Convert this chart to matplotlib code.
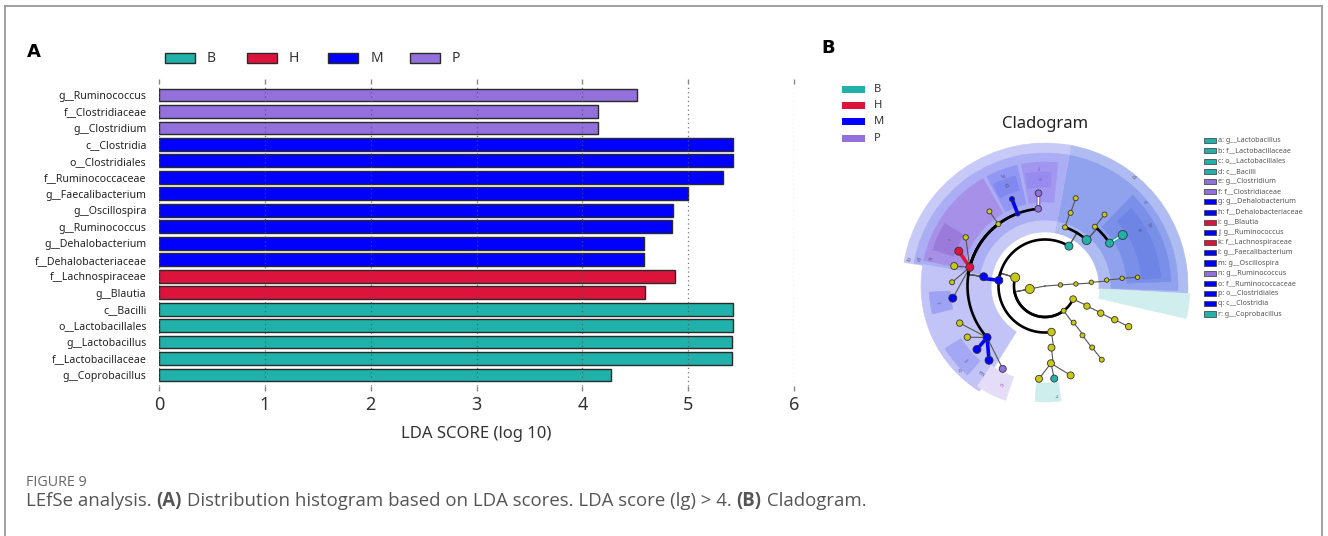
import numpy as np
import matplotlib
matplotlib.use("Agg")
import matplotlib.pyplot as plt
from matplotlib.patches import Rectangle, Wedge, Circle

# ---------------- data: panel A (LDA scores) ----------------
taxa = ["g__Ruminococcus", "f__Clostridiaceae", "g__Clostridium", "c__Clostridia",
        "o__Clostridiales", "f__Ruminococcaceae", "g__Faecalibacterium", "g__Oscillospira",
        "g__Ruminococcus", "g__Dehalobacterium", "f__Dehalobacteriaceae", "f__Lachnospiraceae",
        "g__Blautia", "c__Bacilli", "o__Lactobacillales", "g__Lactobacillus",
        "f__Lactobacillaceae", "g__Coprobacillus"]
lda = [4.52, 4.15, 4.15, 5.42, 5.42, 5.33, 5.00, 4.855, 4.85, 4.58, 4.58, 4.88, 4.59,
       5.42, 5.42, 5.41, 5.41, 4.27]
group = ["P", "P", "P", "M", "M", "M", "M", "M", "M", "M", "M", "H", "H",
         "B", "B", "B", "B", "B"]
groups = ["B", "H", "M", "P"]
gcol = {"B": "#20B2AA", "H": "#DC143C", "M": "#0000FF", "P": "#9370DB", "Y": "#C9C812"}
xticks = [0, 1, 2, 3, 4, 5, 6]

# ---------------- data: panel B (cladogram tree) ----------------
clade_parent = [-1, 0, 0, 1, 1, 1, 2, 6, 7, 8, 9, 3, 3, 3, 4, 14, 15, 16, 5, 18, 19, 20,
                11, 11, 22, 24, 23, 26, 23, 28, 12, 30, 31, 30, 33, 30, 35, 30, 37, 37, 37,
                37, 37, 30, 43, 43, 43, 43, 43, 13, 49, 50, 50, 50]
clade_angle = [0, 191, 4, 164, 335, 307, 3.7, 4.6, 5.5, 5.7, 5.4, 59, 173, 278, 334.4, 334,
               334.2, 334.1, 308, 307.2, 307.5, 307.6, 71.2, 47.8, 70.7, 70.7, 49.9, 50.2,
               33.6, 33.3, 171.4, 95, 94, 110.7, 110.8, 127, 126.7, 166, 158, 148.5, 167.6,
               177.7, 187.5, 221.6, 203.5, 213.4, 223, 233, 243, 276, 274.4, 266.3, 275.7, 286]
clade_level = [0, 1, 1, 2, 2, 2, 2, 3, 4, 5, 6, 3, 3, 3, 3, 4, 5, 6, 3, 4, 5, 6,
               4, 4, 5, 6, 5, 6, 5, 6, 4, 5, 6, 5, 6, 5, 6, 5, 6, 6, 6, 6, 6, 5, 6, 6, 6, 6, 6,
               4, 5, 6, 6, 6]
clade_group = ["R", "Y", "Y", "Y", "Y", "Y", "Y", "Y", "Y", "Y", "Y", "B", "M", "Y", "Y", "Y",
               "Y", "Y", "Y", "Y", "Y", "Y", "Y", "B", "Y", "Y", "Y", "Y", "B", "B", "M", "P",
               "P", "M", "M", "Y", "Y", "H", "H", "Y", "Y", "Y", "M", "M", "Y", "Y", "M", "M",
               "P", "Y", "Y", "Y", "B", "Y"]
clade_size = [0.8, 4.5, 2.2, 4.5, 3.3, 2.5, 2.2, 2.2, 2.2, 2.2, 2.2, 4.0, 4.0, 3.8, 3.2, 3.2,
              3.2, 3.2, 2.5, 2.5, 2.5, 2.5, 2.5, 4.5, 2.5, 2.5, 2.5, 2.5, 4.0, 4.5, 4.0, 3.3,
              3.3, 2.5, 2.5, 2.5, 2.5, 4.0, 4.0, 2.7, 3.5, 2.5, 4.0, 4.0, 3.2, 3.2, 4.0, 4.0,
              3.5, 3.5, 3.5, 3.5, 3.5, 3.5]
letters = list("abcdefghijklmnopqr")
letter_names = ["g__Lactobacillus", "f__Lactobacillaceae", "o__Lactobacillales", "c__Bacilli",
                "g__Clostridium", "f__Clostridiaceae", "g__Dehalobacterium",
                "f__Dehalobacteriaceae", "g__Blautia", "g__Ruminococcus", "f__Lachnospiraceae",
                "g__Faecalibacterium", "g__Oscillospira", "g__Ruminococcus", "f__Ruminococcaceae",
                "o__Clostridiales", "c__Clostridia", "g__Coprobacillus"]
letter_group = ["B", "B", "B", "B", "P", "P", "M", "M", "H", "M", "H", "M", "M", "P", "M",
                "M", "M", "B"]
letter_angle = [31, 30.4, 40, 51, 93, 93, 110.5, 111, 154, 223, 166.6, 189, 233.6, 246, 224.4,
                168, 168.5, -84]
letter_level = [6, 5, 4, 3, 6, 5, 6, 5, 6, 6, 5, 6, 6, 6, 5, 4, 3, 6]

# shaded clade bands: theta1, theta2, inner radius, outer radius (px), colour
shade = [
    (-3, 80.5, 54, 143, "#aebcf1"), (-2, 80, 66, 133, "#90a2ee"),
    (79.5, 170.5, 54, 143, "#c7c9f7"), (79.5, 170, 66, 133, "#abaef4"),
    (120, 168, 84, 124, "#a690e8"), (148, 162, 96, 118, "#9b7bd9"),
    (84, 101, 84, 124, "#a197f1"), (87, 100, 99, 114, "#968cef"),
    (103, 118, 84, 124, "#9197f2"), (105, 117, 99, 114, "#8189f0"),
    (170, 238, 54, 124, "#c2c4f7"), (183, 194, 95, 116, "#9ea2f4"),
    (212, 229, 99, 118, "#a3a7f4"), (236, 251, 96, 121, "#e5ddf7"),
    (2, 46, 82, 126, "#7a8fe8"), (4, 42, 97, 116, "#6e85e5"),
    (-13, -3, 55, 145, "#cfeeed"), (-95, -82, 97, 116, "#cdeeed"),
]

W, H = 1328, 536
fig = plt.figure(figsize=(W / 100, H / 100), dpi=100)
fig.patch.set_facecolor("white")

# overlay in pixel coordinates (origin top-left)
ov = fig.add_axes([0, 0, 1, 1])
ov.set_xlim(0, W)
ov.set_ylim(H, 0)
ov.axis("off")

# frame
ov.plot([5, 5], [6, H], color="#9a9a9a", lw=1.3)
ov.plot([5, 1322], [6, 6], color="#9a9a9a", lw=1.3)
ov.plot([1322, 1322], [6, H], color="#9a9a9a", lw=1.3)

ov.text(27, 52, "A", fontsize=13, fontweight="bold", va="center", family="DejaVu Sans")
ov.text(821, 48, "B", fontsize=13, fontweight="bold", va="center", family="DejaVu Sans")

# ---------------- panel A ----------------
ax = fig.add_axes([159 / W, (H - 386) / H, 635 / W, 302 / H])
ypos = np.arange(len(taxa))
ax.barh(ypos, lda, height=0.78, color=[gcol[g] for g in group], edgecolor="#2a2a2a",
        linewidth=1.0, zorder=1)
ax.set_ylim(len(taxa) - 1 + 0.67, -0.67)
ax.set_xlim(0, 6)
ax.set_xticks(xticks)
ax.set_xticklabels([str(t) for t in xticks], fontsize=13, color="#333333", family="Noto Sans")
ax.set_yticks(ypos)
ax.set_yticklabels(taxa, fontsize=7.6, color="#222222", family="Noto Sans")
ax.tick_params(axis="y", length=0, pad=9)
ax.tick_params(axis="x", top=True, bottom=True, direction="out", length=3.5, width=1,
               color="#888888", pad=4)
for s in ax.spines.values():
    s.set_visible(False)
ax.grid(axis="x", linestyle=(0, (1, 2.5)), color="#555555", lw=0.9, alpha=0.8)
ax.set_axisbelow(False)
ax.set_xlabel("LDA SCORE (log 10)", fontsize=12, color="#333333", family="Noto Sans",
              labelpad=8)
ax.set_facecolor("none")

for i, g in enumerate(groups):
    x0 = 165 + 81.7 * i
    ov.add_patch(Rectangle((x0, 53), 30, 10, facecolor=gcol[g], edgecolor="#2a2a2a", lw=1))
    ov.text(x0 + 42, 58, g, fontsize=10, va="center", color="#333333", family="Noto Sans")

# ---------------- panel B ----------------
cx, cy = 1045, 286
x_l, x_r, y_t, y_b = 880, 1200, 100, 420
cax = fig.add_axes([x_l / W, (H - y_b) / H, (x_r - x_l) / W, (y_b - y_t) / H])
cax.set_xlim(x_l - cx, x_r - cx)
cax.set_ylim(cy - y_b, cy - y_t)
cax.axis("off")

for t1, t2, ri, ro, c in shade:
    cax.add_patch(Wedge((0, 0), ro, t1, t2, width=ro - ri, facecolor=c, edgecolor=c,
                        lw=0.4, zorder=1))

RL = 15.5


def pol(th, r):
    return r * np.cos(np.radians(th)), r * np.sin(np.radians(th))


def seg(p0, p1, color, lw, z):
    cax.plot([p0[0], p1[0]], [p0[1], p1[1]], color=color, lw=lw, zorder=z,
             solid_capstyle="round")


for i, p in enumerate(clade_parent):
    if p < 0:
        continue
    tp, tc = clade_angle[p], clade_angle[i]
    rp, rc = clade_level[p] * RL, clade_level[i] * RL
    gi, gp = clade_group[i], clade_group[p]
    d = (tc - tp + 180) % 360 - 180
    same = gi == gp and gi in gcol and gi != "Y"
    colored = same and (abs(d) < 5 or clade_level[i] == 6)
    if p == 0 or clade_level[i] == 6:
        a, b = pol(tp, rp), pol(tc, rc)
        if colored and gi in ("M", "H"):
            seg(a, b, gcol[gi], 2.6, 4)
        elif colored:
            seg(a, b, gcol[gi], 3.0, 4)
            seg(a, b, "white", 1.0, 4.1)
        else:
            seg(a, b, "#555555", 0.8, 3)
    else:
        a, b = pol(tp, rp), pol(tp, rc)
        th = np.linspace(tp, tp + d, 60)
        xs, ys = rc * np.cos(np.radians(th)), rc * np.sin(np.radians(th))
        if colored:
            seg(a, b, gcol[gi], 2.6, 4)
            cax.plot(xs, ys, color=gcol[gi], lw=2.6, zorder=4, solid_capstyle="round")
        else:
            seg(a, b, "#555555", 0.8, 3)
            cax.plot(xs, ys, color="black", lw=1.9, zorder=3.5, solid_capstyle="round")

for i in range(len(clade_parent)):
    x, y = pol(clade_angle[i], clade_level[i] * RL)
    g = clade_group[i]
    if g == "R":
        cax.add_patch(Circle((x, y), clade_size[i], facecolor="#555555", edgecolor="none",
                             zorder=5))
        continue
    cax.add_patch(Circle((x, y), clade_size[i], facecolor=gcol[g], edgecolor="#333333",
                         lw=0.6, zorder=5))

label_r = {6: 109, 5: 120, 4: 130, 3: 140}
for L, ang, lev, g in zip(letters, letter_angle, letter_level, letter_group):
    x, y = pol(ang, label_r[lev])
    col = "#b04cc8" if g == "P" else "#555577"
    cax.text(x, y, L, fontsize=4.5, color=col, ha="center", va="center", zorder=6,
             rotation=ang - 90 if -90 < ang < 90 else ang + 90)

cax.text(0, cy - 124, "Cladogram", fontsize=12, color="#222222", ha="center", va="center",
         family="Noto Sans")

# group legend of panel B
for i, g in enumerate(groups):
    yy = 89 + 16.4 * i
    ov.add_patch(Rectangle((842, yy - 3.5), 23, 7, facecolor=gcol[g], edgecolor="none"))
    ov.text(874, yy, g, fontsize=8, va="center", color="#333333", family="Noto Sans")

# letter legend of panel B
for i, (L, nm, g) in enumerate(zip(letters, letter_names, letter_group)):
    yy = 140.7 + 10.2 * i
    ov.add_patch(Rectangle((1204, yy - 2.6), 11.5, 5.2, facecolor=gcol[g], edgecolor="#333333",
                           lw=0.5))
    ov.text(1218, yy, f"{L}: {nm}", fontsize=5.2, va="center", color="#555555",
            family="Noto Sans")

# ---------------- caption ----------------
ov.text(26, 483, "FIGURE 9", fontsize=10.3, va="center", color="#666666", family="Open Sans")
runs = [("LEfSe analysis. ", "normal"), ("(A)", "bold"),
        (" Distribution histogram based on LDA scores. LDA score (lg) > 4. ", "normal"),
        ("(B)", "bold"), (" Cladogram.", "normal")]
fig.canvas.draw()
rend = fig.canvas.get_renderer()
xx = 26
for txt, wt in runs:
    t = ov.text(xx, 501, txt, fontsize=13.4, va="center", color="#555555", fontweight=wt,
                family="Open Sans")
    bb = t.get_window_extent(renderer=rend)
    xx += bb.width

fig.savefig("out.png", dpi=100)
